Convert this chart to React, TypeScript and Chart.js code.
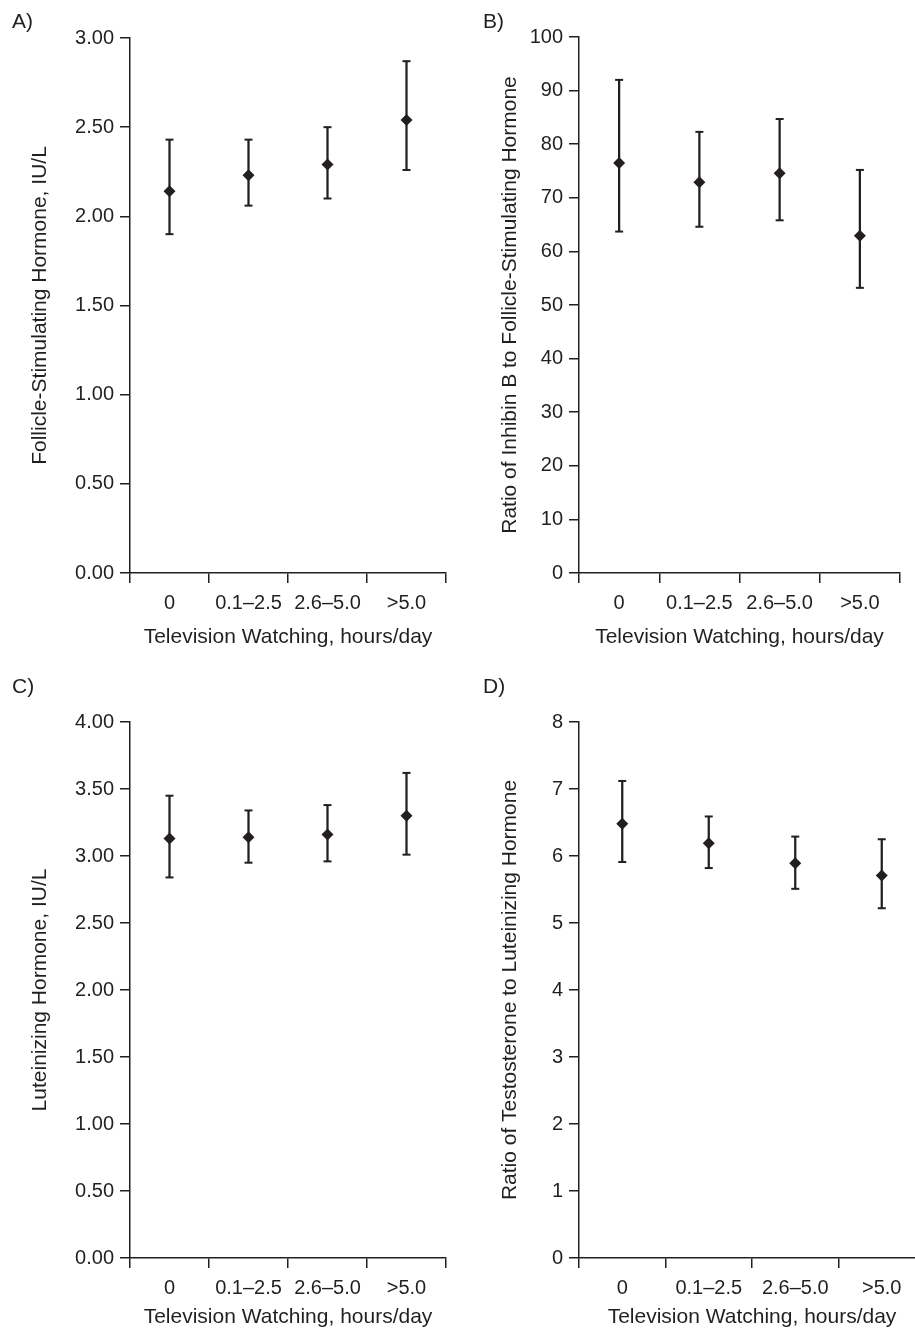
import React, { useEffect, useRef } from "react";
import { Chart, registerables } from "chart.js";

Chart.register(...registerables);

// ---------- data ----------
const categories = ["0", "0.1–2.5", "2.6–5.0", ">5.0"];
const xTitle = "Television Watching, hours/day";

const fshMean = [2.14, 2.23, 2.29, 2.54];
const fshLow = [1.9, 2.06, 2.1, 2.26];
const fshHigh = [2.43, 2.43, 2.5, 2.87];

const inhFshMean = [76.5, 72.9, 74.6, 62.9];
const inhFshLow = [63.7, 64.6, 65.8, 53.2];
const inhFshHigh = [92.0, 82.3, 84.7, 75.2];

const lhMean = [3.13, 3.14, 3.16, 3.3];
const lhLow = [2.84, 2.95, 2.96, 3.01];
const lhHigh = [3.45, 3.34, 3.38, 3.62];

const tLhMean = [6.48, 6.19, 5.89, 5.71];
const tLhLow = [5.91, 5.82, 5.51, 5.22];
const tLhHigh = [7.12, 6.59, 6.29, 6.25];

const yTicksA = ["0.00", "0.50", "1.00", "1.50", "2.00", "2.50", "3.00"];
const yTicksB = ["0", "10", "20", "30", "40", "50", "60", "70", "80", "90", "100"];
const yTicksC = ["0.00", "0.50", "1.00", "1.50", "2.00", "2.50", "3.00", "3.50", "4.00"];
const yTicksD = ["0", "1", "2", "3", "4", "5", "6", "7", "8"];

// ---------- style ----------
const INK = "#231f20";
const FONT = "'Liberation Sans', Arial, Helvetica, sans-serif";

type PanelProps = {
  left: number;
  top: number;
  width: number;
  height: number;
  pad: { left: number; top: number; right: number; bottom: number };
  yW: number;
  xH: number;
  yMax: number;
  yStep: number;
  yLabels: string[];
  yTitle: string;
  mean: number[];
  low: number[];
  high: number[];
};

function Panel(p: PanelProps) {
  const ref = useRef<HTMLCanvasElement | null>(null);
  useEffect(() => {
    if (!ref.current) return;
    const capDs = (vals: number[]) => ({
      type: "line" as const,
      data: vals,
      showLine: false,
      pointStyle: "line" as const,
      pointRadius: 4,
      pointBorderWidth: 2,
      pointBorderColor: INK,
      pointBackgroundColor: INK,
      order: 1,
    });
    const chart = new Chart(ref.current, {
      type: "bar",
      data: {
        labels: categories,
        datasets: [
          {
            type: "line",
            data: p.mean,
            showLine: false,
            pointStyle: "rectRot",
            pointRadius: 6,
            pointBorderWidth: 0,
            pointBackgroundColor: INK,
            pointBorderColor: INK,
            order: 0,
          } as any,
          capDs(p.high) as any,
          capDs(p.low) as any,
          {
            type: "bar",
            data: p.low.map((l, i) => [l, p.high[i]]),
            backgroundColor: INK,
            borderWidth: 0,
            barThickness: 1.6,
            order: 2,
          } as any,
        ],
      },
      options: {
        animation: false,
        responsive: false,
        events: [],
        layout: { padding: p.pad },
        plugins: {
          legend: { display: false },
          tooltip: { enabled: false },
          title: { display: false },
        },
        scales: {
          x: {
            type: "category",
            offset: true,
            grid: {
              offset: true,
              drawOnChartArea: false,
              drawTicks: true,
              tickLength: 10,
              color: INK,
              lineWidth: 1.5,
            },
            border: { display: true, color: INK, width: 1.5 },
            ticks: {
              font: { family: FONT, size: 20 },
              color: INK,
              padding: 8,
              maxRotation: 0,
              autoSkip: false,
            },
            title: {
              display: true,
              text: xTitle,
              font: { family: FONT, size: 21 },
              color: INK,
              padding: 0,
            },
            afterFit: (s: any) => {
              s.height = p.xH;
            },
          },
          y: {
            type: "linear",
            min: 0,
            max: p.yMax,
            grid: {
              drawOnChartArea: false,
              drawTicks: true,
              tickLength: 10,
              color: INK,
              lineWidth: 1.5,
            },
            border: { display: true, color: INK, width: 1.5 },
            ticks: {
              stepSize: p.yStep,
              font: { family: FONT, size: 20 },
              color: INK,
              padding: 6,
              callback: (_v: any, i: number) => p.yLabels[i],
            },
            title: {
              display: true,
              text: p.yTitle,
              font: { family: FONT, size: 21 },
              color: INK,
              padding: 0,
            },
            afterFit: (s: any) => {
              s.width = p.yW;
            },
          },
        },
      } as any,
    });
    return () => chart.destroy();
  }, []);
  return (
    <canvas
      ref={ref}
      width={p.width}
      height={p.height}
      style={{
        position: "absolute",
        left: p.left,
        top: p.top,
        width: p.width,
        height: p.height,
      }}
    />
  );
}

const letterStyle = (left: number, top: number): React.CSSProperties => ({
  position: "absolute",
  left,
  top,
  fontFamily: FONT,
  fontSize: 21,
  lineHeight: "21px",
  color: INK,
});

export default function App() {
  return (
    <div
      style={{
        position: "absolute",
        left: 0,
        top: 0,
        width: 915,
        height: 1338,
        overflow: "hidden",
        background: "#ffffff",
      }}
    >
      <Panel
        left={0}
        top={0}
        width={460}
        height={670}
        pad={{ left: 28, top: 38, right: 14, bottom: 20 }}
        yW={102}
        xH={77}
        yMax={3}
        yStep={0.5}
        yLabels={yTicksA}
        yTitle="Follicle-Stimulating Hormone, IU/L"
        mean={fshMean}
        low={fshLow}
        high={fshHigh}
      />
      <Panel
        left={460}
        top={0}
        width={455}
        height={670}
        pad={{ left: 38, top: 37, right: 15, bottom: 20 }}
        yW={81}
        xH={77}
        yMax={100}
        yStep={10}
        yLabels={yTicksB}
        yTitle="Ratio of Inhibin B to Follicle-Stimulating Hormone"
        mean={inhFshMean}
        low={inhFshLow}
        high={inhFshHigh}
      />
      <Panel
        left={0}
        top={670}
        width={460}
        height={668}
        pad={{ left: 28, top: 52, right: 14, bottom: 8 }}
        yW={102}
        xH={72}
        yMax={4}
        yStep={0.5}
        yLabels={yTicksC}
        yTitle="Luteinizing Hormone, IU/L"
        mean={lhMean}
        low={lhLow}
        high={lhHigh}
      />
      <Panel
        left={460}
        top={670}
        width={475}
        height={668}
        pad={{ left: 38, top: 52, right: 10, bottom: 8 }}
        yW={81}
        xH={72}
        yMax={8}
        yStep={1}
        yLabels={yTicksD}
        yTitle="Ratio of Testosterone to Luteinizing Hormone"
        mean={tLhMean}
        low={tLhLow}
        high={tLhHigh}
      />
      <div style={letterStyle(12, 10)}>A)</div>
      <div style={letterStyle(483, 10)}>B)</div>
      <div style={letterStyle(12, 675)}>C)</div>
      <div style={letterStyle(483, 675)}>D)</div>
    </div>
  );
}
